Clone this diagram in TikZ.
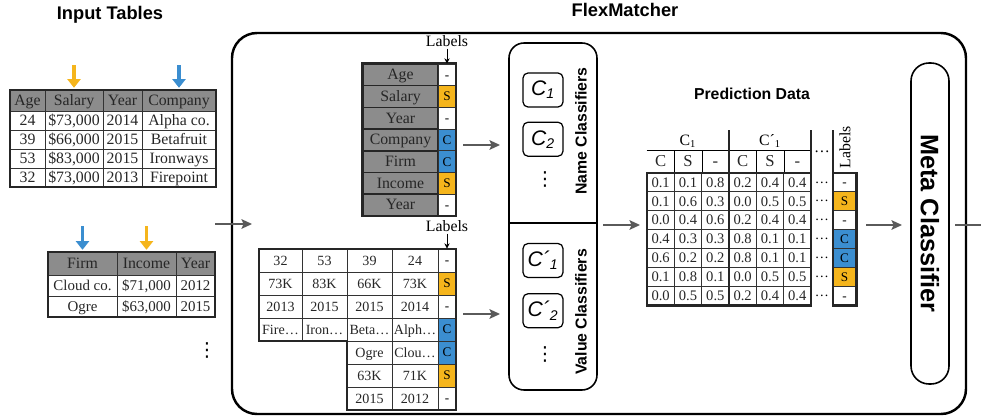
\documentclass[tikz,border=0pt]{standalone}
\usepackage{fontspec}
\setmainfont{Liberation Serif}
\newfontfamily\headfont{Liberation Sans}
\newfontfamily\dotsfont{DejaVu Sans}
\usetikzlibrary{arrows.meta, positioning}

\newdimen\pxu
\pxu=0.02cm

\definecolor{colS}{HTML}{F5B51C}
\definecolor{colC}{HTML}{3B8ED0}
\definecolor{hdgray}{HTML}{8C8C8C}
\definecolor{arrgray}{HTML}{5A5A5A}

\tikzset{
    tcell/.style={rectangle, draw=black!80, line width=0.5pt, inner sep=0pt, text=black!85, text height=1.5ex, text depth=0.3ex, font=\fontsize{9}{10}\selectfont},
    thead/.style={tcell, fill=hdgray},
    ncell/.style={tcell, fill=hdgray, draw=black!85, line width=0.9pt, minimum width=75*\pxu, minimum height=21.71*\pxu},
    lcell/.style={rectangle, draw=black!80, line width=0.5pt, inner sep=0pt, minimum width=18*\pxu, minimum height=21.71*\pxu, text height=1.3ex, text depth=0.2ex, font=\fontsize{7.5}{8}\selectfont},
    vcell/.style={tcell, minimum height=23*\pxu, font=\fontsize{8}{9}\selectfont},
    pcell/.style={tcell, minimum width=27.33*\pxu, minimum height=18.86*\pxu, font=\fontsize{8.3}{9}\selectfont},
    tframe/.style={draw=black!85, line width=1.2pt},
    arrow/.style={draw=arrgray, line width=0.9pt, -{Stealth[length=6pt, width=5.5pt, inset=1.2pt]}},
    colarrow/.style={line width=1.8pt, -{Triangle[length=5pt, width=7.5pt]}},
    lblarrow/.style={line width=0.5pt, -{Stealth[length=3pt, width=3pt]}},
    lbltext/.style={inner sep=1pt, font=\fontsize{9}{10}\selectfont},
    vdotstext/.style={inner sep=0pt, font=\dotsfont\fontsize{11}{11}\selectfont},
    heading/.style={font=\headfont\bfseries\fontsize{#1}{#1}\selectfont},
    heading/.default=10.4,
    clsbox/.style={draw, line width=0.7pt, rounded corners=5*\pxu, minimum width=40*\pxu, minimum height=34*\pxu, inner sep=0pt, font=\headfont\itshape\fontsize{12}{12}\selectfont},
    groupbox/.style={draw, line width=0.9pt, inner sep=0pt}
}

\begin{document}
\begin{tikzpicture}[x=0.02cm, y=-0.02cm]
\useasboundingbox (0,0) rectangle (981,419);
\clip (0,0) rectangle (981,419);

\node[heading] (inputTitle) at (110,15) {Input Tables};
\foreach \cx/\cw/\ct [count=\j] in {27.5/35/Age, 74/58/Salary, 122.5/39/Year, 179/74/Company}
    \node[thead, minimum width=\cw*\pxu, minimum height=21*\pxu] (ta-0-\j) at (\cx,100.5) {\ct};
\foreach \cy/\va/\vb/\vc/\vd [count=\i] in {120.5/24/{\$73,000}/2014/{Alpha co.}, 139.5/39/{\$66,000}/2015/Betafruit, 158.5/53/{\$83,000}/2015/Ironways, 177.5/32/{\$73,000}/2013/Firepoint}{
    \node[tcell, minimum width=35*\pxu, minimum height=19*\pxu] (ta-\i-1) at (27.5,\cy) {\va};
    \node[tcell, minimum width=58*\pxu, minimum height=19*\pxu] (ta-\i-2) at (74,\cy) {\vb};
    \node[tcell, minimum width=39*\pxu, minimum height=19*\pxu] (ta-\i-3) at (122.5,\cy) {\vc};
    \node[tcell, minimum width=74*\pxu, minimum height=19*\pxu] (ta-\i-4) at (179,\cy) {\vd};
}
\draw[tframe] (ta-0-1.north west) rectangle (ta-4-4.south east);
\coordinate (salaryTag) at (74,65);
\coordinate (companyTag) at (179,65);
\draw[colarrow, colS, shorten >=1pt] (salaryTag) -- (ta-0-2.north);
\draw[colarrow, colC, shorten >=1pt] (companyTag) -- (ta-0-4.north);

\foreach \cx/\cw/\ct [count=\j] in {82.5/69/Firm, 146.5/59/Income, 195.5/39/Year}
    \node[thead, minimum width=\cw*\pxu, minimum height=23*\pxu] (tb-0-\j) at (\cx,263.5) {\ct};
\foreach \cy/\va/\vb/\vc [count=\i] in {285.5/{Cloud co.}/{\$71,000}/2012, 306.5/Ogre/{\$63,000}/2015}{
    \node[tcell, minimum width=69*\pxu, minimum height=21*\pxu, font=\fontsize{8.5}{9}\selectfont] (tb-\i-1) at (82.5,\cy) {\va};
    \node[tcell, minimum width=59*\pxu, minimum height=21*\pxu, font=\fontsize{8.5}{9}\selectfont] (tb-\i-2) at (146.5,\cy) {\vb};
    \node[tcell, minimum width=39*\pxu, minimum height=21*\pxu, font=\fontsize{8.5}{9}\selectfont] (tb-\i-3) at (195.5,\cy) {\vc};
}
\draw[tframe] (tb-0-1.north west) rectangle (tb-2-3.south east);
\coordinate (firmTag) at (82.5,226);
\coordinate (incomeTag) at (146.5,226);
\draw[colarrow, colC, shorten >=1pt] (firmTag) -- (tb-0-1.north);
\draw[colarrow, colS, shorten >=1pt] (incomeTag) -- (tb-0-2.north);
\node[vdotstext] (moreTables) at (207,350) {⋮};

\node[groupbox, line width=1.4pt, rounded corners=25*\pxu, minimum width=734*\pxu, minimum height=381*\pxu] (flex) at (599,223.5) {};
\node[heading] (flexTitle) at (625,10) {FlexMatcher};
\coordinate (tablesOut) at (215,224);
\coordinate (flexIn) at (252,224);
\draw[arrow] (tablesOut) -- (flexIn);

\foreach \ct/\lb/\lf [count=\i] in {Age/-/white, Salary/S/colS, Year/-/white, Company/C/colC, Firm/C/colC, Income/S/colS, Year/-/white}{
    \node[ncell] (tn-\i-1) at (400.5,53.14+21.71*\i) {\ct};
    \node[lcell, fill=\lf] (tn-\i-2) at (447,53.14+21.71*\i) {\lb};
}
\draw[tframe] (tn-1-1.north west) rectangle (tn-7-2.south east);
\node[lbltext, above=0.3cm of tn-1-2] (nameLabels) {Labels};
\draw[lblarrow] (nameLabels) -- (tn-1-2.north);

\foreach \va/\vb/\vc/\vd/\lb/\lf [count=\i] in {32/53/39/24/-/white, 73K/83K/66K/73K/S/colS, 2013/2015/2015/2014/-/white, Fire\ldots/Iron\ldots/Beta\ldots/Alph\ldots/C/colC}{
    \node[vcell, minimum width=43*\pxu] (tv-\i-1) at (280.5,237.5+23*\i) {\va};
    \node[vcell, minimum width=45*\pxu] (tv-\i-2) at (324.5,237.5+23*\i) {\vb};
    \node[vcell, minimum width=45*\pxu] (tv-\i-3) at (369.5,237.5+23*\i) {\vc};
    \node[vcell, minimum width=46*\pxu] (tv-\i-4) at (415,237.5+23*\i) {\vd};
    \node[lcell, minimum height=23*\pxu, fill=\lf] (tv-\i-5) at (447,237.5+23*\i) {\lb};
}
\foreach \vc/\vd/\lb/\lf [count=\i from 5] in {Ogre/Clou\ldots/C/colC, 63K/71K/S/colS, 2015/2012/-/white}{
    \node[vcell, minimum width=45*\pxu] (tv-\i-3) at (369.5,237.5+23*\i) {\vc};
    \node[vcell, minimum width=46*\pxu] (tv-\i-4) at (415,237.5+23*\i) {\vd};
    \node[lcell, minimum height=23*\pxu, fill=\lf] (tv-\i-5) at (447,237.5+23*\i) {\lb};
}
\draw[tframe] (tv-1-1.north west) -- (tv-1-5.north east) -- (tv-7-5.south east) -- (tv-7-3.south west) -- (tv-4-3.south west) -- (tv-4-1.south west) -- cycle;
\node[lbltext, above=0.3cm of tv-1-5] (valueLabels) {Labels};
\draw[lblarrow] (valueLabels) -- (tv-1-5.north);

\coordinate (namesOut) at (463,145);
\coordinate (nameClsIn) at (500,145);
\coordinate (valuesOut) at (463,314);
\coordinate (valueClsIn) at (500,314);
\draw[arrow] (namesOut) -- (nameClsIn);
\draw[arrow] (valuesOut) -- (valueClsIn);

\node[groupbox, rounded corners=15*\pxu, minimum width=88*\pxu, minimum height=347*\pxu] (classifiers) at (553,216.5) {};
\coordinate (clsSplit) at (553,223);
\draw[line width=0.9pt] (classifiers.west |- clsSplit) -- (classifiers.east |- clsSplit);
\node[clsbox] (nameC1) at (543,90) {C\textsubscript{1}};
\node[clsbox, below=0.28cm of nameC1] (nameC2) {C\textsubscript{2}};
\node[vdotstext] (nameMore) at (545,179) {⋮};
\node[heading=9, rotate=90] (nameClsText) at (581,131) {Name Classifiers};
\node[clsbox] (valueC1) at (543,260.5) {C´\textsubscript{1}};
\node[clsbox, below=0.3cm of valueC1] (valueC2) {C´\textsubscript{2}};
\node[vdotstext] (valueMore) at (545,354) {⋮};
\node[heading=9, rotate=90] (valueClsText) at (581,312) {Value Classifiers};

\coordinate (clsOut) at (603,225);
\coordinate (predIn) at (640,225);
\draw[arrow] (clsOut) -- (predIn);

\node[heading=9] (predTitle) at (752,94) {Prediction Data};
\node[lbltext] (grpC) at (688,141) {C\textsubscript{1}};
\node[lbltext] (grpCp) at (770,141) {C´\textsubscript{1}};
\foreach \ct [count=\j] in {C,S,-,C,S,-}
    \node[tcell, draw=none, minimum width=27.33*\pxu, minimum height=22*\pxu, font=\fontsize{9.5}{10}\selectfont] (ph-\j) at (633.33+27.33*\j,162) {\ct};
\draw[line width=0.5pt] (ph-1.north west) -- (ph-6.north east);
\foreach \j in {1,2,4,5}
    \draw[line width=0.5pt] (ph-\j.north east) -- (ph-\j.south east);
\foreach \va/\vb/\vc/\vd/\ve/\vf/\lb/\lf [count=\i] in {0.1/0.1/0.8/0.2/0.4/0.4/-/white,
    0.1/0.6/0.3/0.0/0.5/0.5/S/colS,
    0.0/0.4/0.6/0.2/0.4/0.4/-/white,
    0.4/0.3/0.3/0.8/0.1/0.1/C/colC,
    0.6/0.2/0.2/0.8/0.1/0.1/C/colC,
    0.1/0.8/0.1/0.0/0.5/0.5/S/colS,
    0.0/0.5/0.5/0.2/0.4/0.4/-/white}{
    \foreach \v [count=\j] in {\va,\vb,\vc,\vd,\ve,\vf}
        \node[pcell] (pd-\i-\j) at (633.33+27.33*\j,163.57+18.86*\i) {\v};
    \node[lbltext, font=\fontsize{8}{9}\selectfont] (pdots-\i) at (822,163.57+18.86*\i) {\ldots};
    \node[lcell, minimum width=23*\pxu, minimum height=18.86*\pxu, fill=\lf] (pl-\i) at (844.5,163.57+18.86*\i) {\lb};
}
\draw[tframe] (pd-1-1.north west) rectangle (pd-7-6.south east);
\draw[tframe] (pl-1.north west) rectangle (pl-7.south east);
\coordinate (hdTop) at (0,130);
\draw[tframe] (pd-7-3.south east) -- (pd-7-3.south east |- hdTop);
\draw[tframe] (pd-1-6.north east) -- (pd-1-6.north east |- hdTop);
\draw[tframe] (pl-1.north west) -- (pl-1.north west |- hdTop);
\node[lbltext] (hdDots) at (822,152) {\ldots};
\node[lbltext, rotate=90] (predLabels) at (845,147) {Labels};

\coordinate (predOut) at (866,225);
\coordinate (metaIn) at (902,225);
\draw[arrow] (predOut) -- (metaIn);
\node[groupbox, rotate=-90, rounded corners=18*\pxu, minimum width=321*\pxu, minimum height=38*\pxu, heading=14.4] (meta) at (930,223.5) {Meta Classifier};
\coordinate (metaOut) at (955,225);
\coordinate (matchOut) at (992,225);
\draw[arrow] (metaOut) -- (matchOut);
\end{tikzpicture}
\end{document}
